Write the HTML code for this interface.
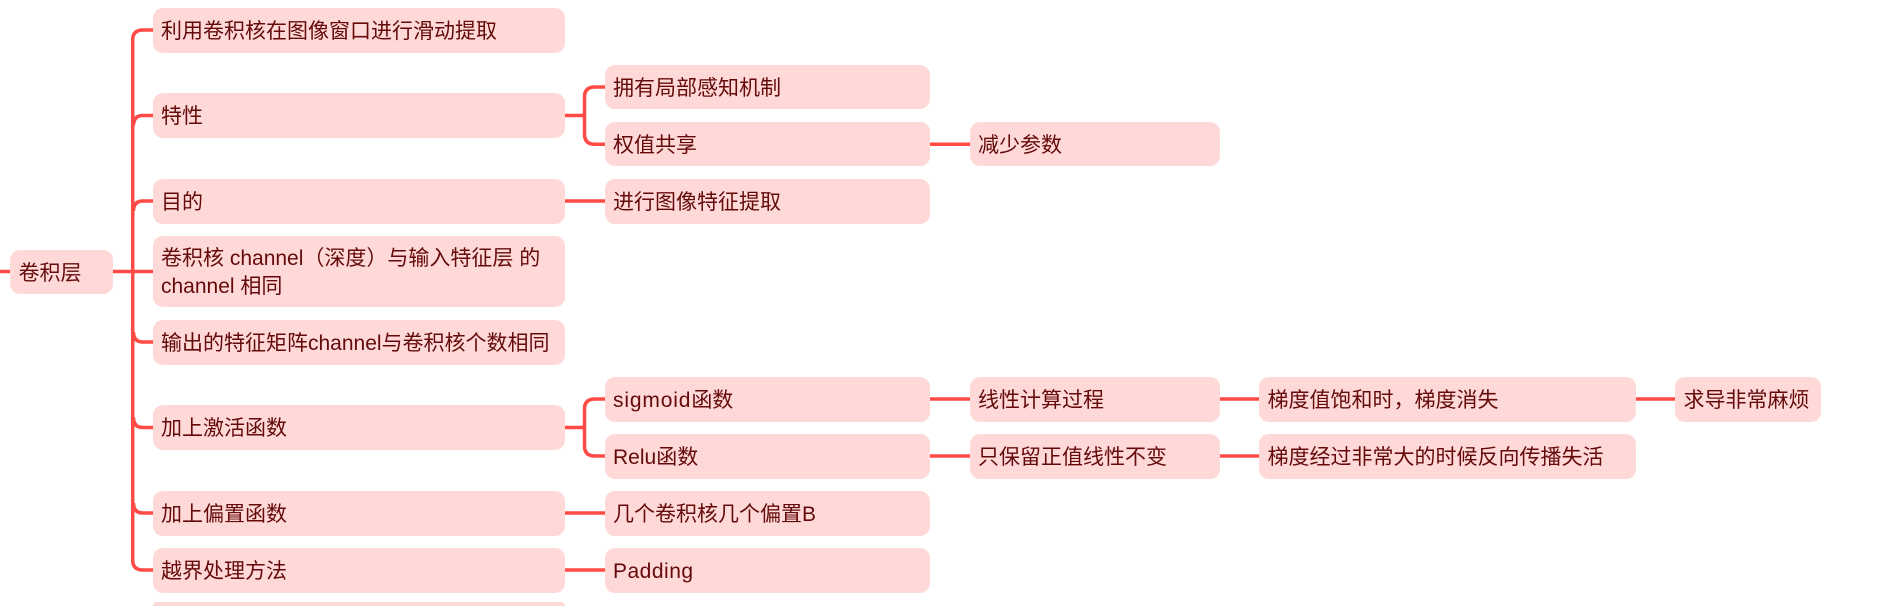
<!DOCTYPE html>
<html><head><meta charset="utf-8"><style>
html,body{margin:0;padding:0;background:#fff;overflow:hidden;width:1898px;height:606px}
#w{position:absolute;left:0;top:0;width:1898px;height:606px;overflow:hidden;font-family:"Liberation Sans","Noto Sans CJK SC",sans-serif;font-size:21px;color:#640a0a}
.n{position:absolute;background:#ffd9d8;border-radius:10px;box-sizing:border-box;padding-left:8.500px;padding-top:3px;white-space:nowrap;display:flex;align-items:center;line-height:27.500px}
.s{letter-spacing:.85px}.p{letter-spacing:.5px}
svg{position:absolute;left:0;top:0}
</style></head><body><div id="w">
<svg width="1898" height="606" fill="none" stroke="#ff4a45" stroke-width="3.500">
<path d="M0 271.500H153"/>
<path d="M153 30H143Q132.700 30 132.700 40V560Q132.700 570 143 570H153"/>
<path d="M153 115.500H143Q133.500 115.500 133.500 125.500"/>
<path d="M153 201H143Q133.500 201 133.500 211"/>
<path d="M153 342H143Q133.500 342 133.500 332"/>
<path d="M153 427.500H143Q133.500 427.500 133.500 417.500"/>
<path d="M153 513H143Q133.500 513 133.500 503"/>
<path d="M565 115.500H584.500"/>
<path d="M605 87H595Q584.500 87 584.500 97V134Q584.500 144.300 595 144.300H605"/>
<path d="M565 427.500H584.500"/>
<path d="M605 399H595Q584.500 399 584.500 409V446Q584.500 456 595 456H605"/>
<path d="M565 201H605M565 513H605M565 570H605"/>
<path d="M930 144.300H970M930 399H970M930 456H970"/>
<path d="M1220 399H1260M1220 456H1260M1635 399H1676"/>
</svg>
<div class="n" style="left:10px;top:249.500px;width:103px;height:44.500px">卷积层</div>
<div class="n" style="left:152.500px;top:8px;width:412.500px;height:44.500px">利用卷积核在图像窗口进行滑动提取</div>
<div class="n" style="left:152.500px;top:93.300px;width:412.500px;height:44.500px">特性</div>
<div class="n" style="left:152.500px;top:179px;width:412.500px;height:44.500px">目的</div>
<div class="n" style="left:152.500px;top:236px;width:412.500px;height:71px;padding-top:2px"><span>卷积核 channel（深度）与输入特征层 的<br>channel 相同</span></div>
<div class="n" style="left:152.500px;top:320px;width:412.500px;height:44.500px">输出的特征矩阵channel与卷积核个数相同</div>
<div class="n" style="left:152.500px;top:405.300px;width:412.500px;height:44.500px">加上激活函数</div>
<div class="n" style="left:152.500px;top:491px;width:412.500px;height:44.500px">加上偏置函数</div>
<div class="n" style="left:152.500px;top:548px;width:412.500px;height:44.500px">越界处理方法</div>
<div class="n" style="left:152.500px;top:602.300px;width:412.500px;height:3.700px;padding:0;border-radius:10px 10px 0 0"></div>
<div class="n" style="left:604.500px;top:64.700px;width:325.500px;height:44.500px">拥有局部感知机制</div>
<div class="n" style="left:604.500px;top:121.800px;width:325.500px;height:44.500px">权值共享</div>
<div class="n" style="left:604.500px;top:179px;width:325.500px;height:44.500px">进行图像特征提取</div>
<div class="n" style="left:604.500px;top:377px;width:325.500px;height:44.500px"><span><span class="s">sigmoid</span>函数</span></div>
<div class="n" style="left:604.500px;top:434px;width:325.500px;height:44.500px">Relu函数</div>
<div class="n" style="left:604.500px;top:491px;width:325.500px;height:44.500px">几个卷积核几个偏置B</div>
<div class="n" style="left:604.500px;top:548px;width:325.500px;height:44.500px"><span class="p">Padding</span></div>
<div class="n" style="left:969.500px;top:121.800px;width:250.500px;height:44.500px">减少参数</div>
<div class="n" style="left:969.500px;top:377px;width:250.500px;height:44.500px">线性计算过程</div>
<div class="n" style="left:969.500px;top:434px;width:250.500px;height:44.500px">只保留正值线性不变</div>
<div class="n" style="left:1259px;top:377px;width:376.500px;height:44.500px">梯度值饱和时，梯度消失</div>
<div class="n" style="left:1259px;top:434px;width:376.500px;height:44.500px">梯度经过非常大的时候反向传播失活</div>
<div class="n" style="left:1675px;top:377px;width:145.500px;height:44.500px">求导非常麻烦</div>
</div></body></html>
